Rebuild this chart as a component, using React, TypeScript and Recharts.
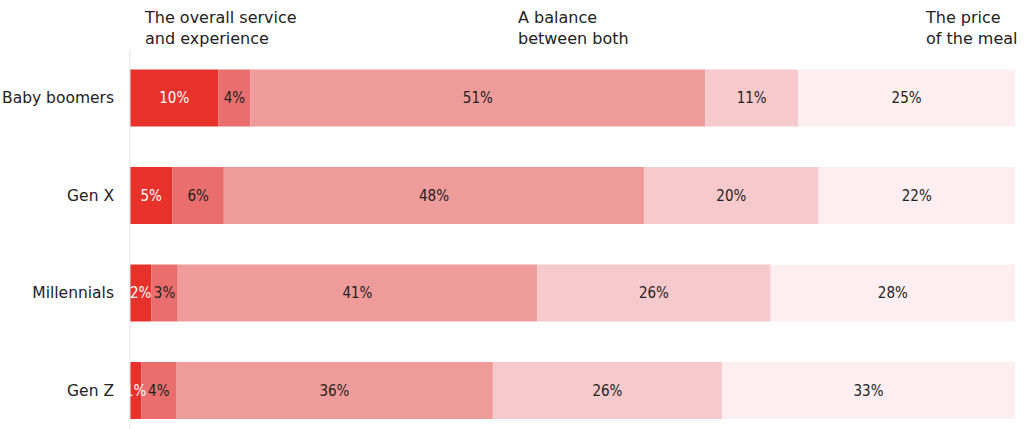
import { BarChart, Bar, XAxis, YAxis, LabelList } from "recharts"

const generations = ["Baby boomers", "Gen X", "Millennials", "Gen Z"]
// shares; labels show them rounded
const serviceOnly = [10, 4.8, 2.4, 1.3]
const leanService = [3.6, 5.8, 3.0, 3.9]
const balance = [51.4, 47.5, 40.6, 35.8]
const leanPrice = [10.5, 19.7, 26.4, 25.9]
const priceOnly = [24.5, 22.2, 27.6, 33.1]

const segKeys = ["s1", "s2", "s3", "s4", "s5"]
const segColors = ["#e6322a", "#e96e6d", "#ef9b99", "#f6c9cc", "#fdeff1"]
const labelColors = ["#ffffff", "#222222", "#222222", "#222222", "#222222"]

const data = generations.map((name, i) => ({
  name,
  s1: serviceOnly[i],
  s2: leanService[i],
  s3: balance[i],
  s4: leanPrice[i],
  s5: priceOnly[i],
}))

const font = "'DejaVu Sans', sans-serif"
const labelFont = "'DejaVu Sans Condensed', 'DejaVu Sans', sans-serif"

const headStyle: React.CSSProperties = {
  position: "absolute",
  top: 7,
  fontFamily: font,
  fontSize: 16,
  lineHeight: "21px",
  color: "#222",
  whiteSpace: "nowrap",
}

export default function App() {
  return (
    <div style={{ position: "absolute", top: 0, left: 0, width: 1024, height: 429, overflow: "hidden", background: "#fff" }}>
      <BarChart
        width={1024}
        height={440}
        data={data}
        layout="vertical"
        stackOffset="expand"
        barCategoryGap="21%"
        margin={{ top: 49, right: 9, left: 0, bottom: 1 }}
      >
        <XAxis type="number" domain={[0, 1]} hide />
        <YAxis
          type="category"
          dataKey="name"
          width={130}
          axisLine={{ stroke: "#e2e2e2" }}
          tickLine={false}
          tickMargin={10}
          tick={{ fill: "#222", fontSize: 15.5, fontFamily: font }}
        />
        {segKeys.map((k, i) => (
          <Bar key={k} dataKey={k} stackId="a" fill={segColors[i]} isAnimationActive={false}>
            <LabelList
              dataKey={k}
              position="center"
              formatter={(v: any) => `${Math.round(v)}%`}
              style={{ fill: labelColors[i], fontSize: 15, fontFamily: labelFont }}
            />
          </Bar>
        ))}
      </BarChart>
      <div style={{ ...headStyle, left: 145 }}>
        The overall service
        <br />
        and experience
      </div>
      <div style={{ ...headStyle, left: 518 }}>
        A balance
        <br />
        between both
      </div>
      <div style={{ ...headStyle, left: 926 }}>
        The price
        <br />
        of the meal
      </div>
    </div>
  )
}
